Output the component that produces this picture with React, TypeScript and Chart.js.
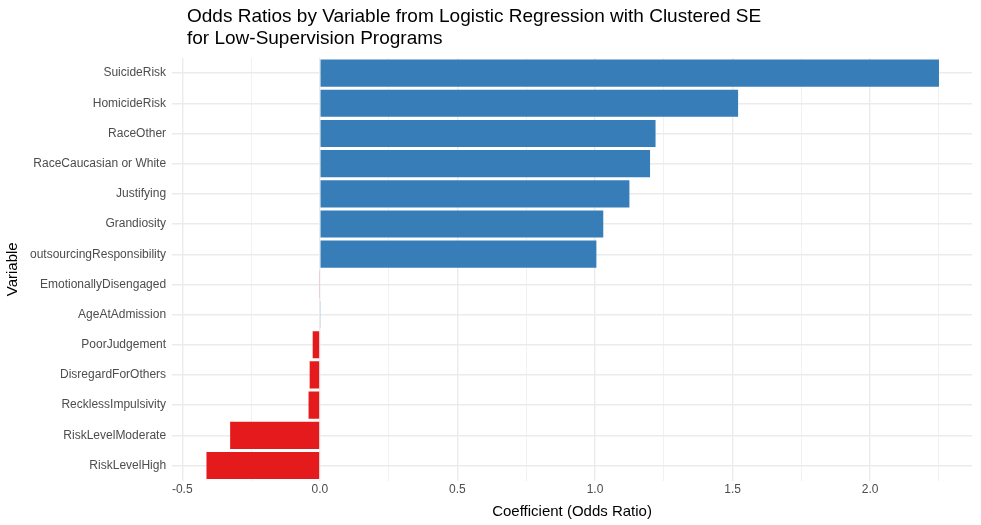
import { useEffect, useRef } from "react"
import { Chart, registerables } from "chart.js"

Chart.register(...registerables)

const variables = [
  "SuicideRisk",
  "HomicideRisk",
  "RaceOther",
  "RaceCaucasian or White",
  "Justifying",
  "Grandiosity",
  "outsourcingResponsibility",
  "EmotionallyDisengaged",
  "AgeAtAdmission",
  "PoorJudgement",
  "DisregardForOthers",
  "RecklessImpulsivity",
  "RiskLevelModerate",
  "RiskLevelHigh",
]
const oddsRatios = [2.25, 1.52, 1.22, 1.2, 1.125, 1.03, 1.005, -0.003, 0.002, -0.026, -0.037, -0.041, -0.326, -0.412]

const FONT = "'Liberation Sans', Arial, sans-serif"

export default function App() {
  const chartRef = useRef<HTMLCanvasElement>(null)
  const chartInstance = useRef<Chart | null>(null)

  useEffect(() => {
    if (!chartRef.current) return
    const ctx = chartRef.current.getContext("2d")
    if (!ctx) return
    if (chartInstance.current) chartInstance.current.destroy()

    const isMajor = (v: number) => Math.abs(v * 2 - Math.round(v * 2)) < 1e-6

    chartInstance.current = new Chart(ctx, {
      type: "bar",
      data: {
        labels: variables,
        datasets: [
          {
            data: oddsRatios,
            backgroundColor: oddsRatios.map((v) => (v >= 0 ? "#377eb8" : "#e41a1c")),
            barPercentage: 1,
            categoryPercentage: 0.9,
          },
        ],
      },
      options: {
        indexAxis: "y",
        animation: false,
        responsive: false,
        layout: { padding: { top: 58, right: 9, left: 4, bottom: 4 } },
        plugins: { legend: { display: false }, tooltip: { enabled: false } },
        scales: {
          x: {
            min: -0.537,
            max: 2.37,
            border: { display: false },
            afterBuildTicks: (axis) => {
              const t = []
              for (let v = -0.5; v <= 2.26; v += 0.25) t.push({ value: Math.round(v * 100) / 100 })
              axis.ticks = t
            },
            ticks: {
              autoSkip: false,
              maxRotation: 0,
              color: "#4d4d4d",
              font: { family: FONT, size: 12 },
              padding: 2,
              callback: (v) => (isMajor(Number(v)) ? Number(v).toFixed(1) : ""),
            },
            grid: {
              color: "#ebebeb",
              lineWidth: (c) => (isMajor(c.tick?.value ?? 0) ? 1.4 : 0.7),
              drawTicks: false,
            },
            title: {
              display: true,
              text: "Coefficient (Odds Ratio)",
              color: "#000",
              font: { family: FONT, size: 15 },
              padding: { top: 4, bottom: 0 },
            },
          },
          y: {
            border: { display: false },
            ticks: { color: "#4d4d4d", font: { family: FONT, size: 12 }, padding: 6 },
            grid: { color: "#ebebeb", lineWidth: 1.4, offset: false, drawTicks: false },
            title: {
              display: true,
              text: "Variable",
              color: "#000",
              font: { family: FONT, size: 15 },
              padding: { top: 0, bottom: 2 },
            },
          },
        },
      },
    })

    return () => {
      if (chartInstance.current) chartInstance.current.destroy()
    }
  }, [])

  return (
    <div style={{ position: "fixed", left: 0, top: 0, width: 981, height: 525, background: "#fff" }}>
      <div
        style={{
          position: "absolute",
          left: 187,
          top: 5,
          fontFamily: FONT,
          fontSize: 19,
          lineHeight: "22px",
          color: "#000",
        }}
      >
        Odds Ratios by Variable from Logistic Regression with Clustered SE
        <br />
        for Low-Supervision Programs
      </div>
      <canvas ref={chartRef} width={981} height={525} style={{ display: "block" }}></canvas>
    </div>
  )
}
